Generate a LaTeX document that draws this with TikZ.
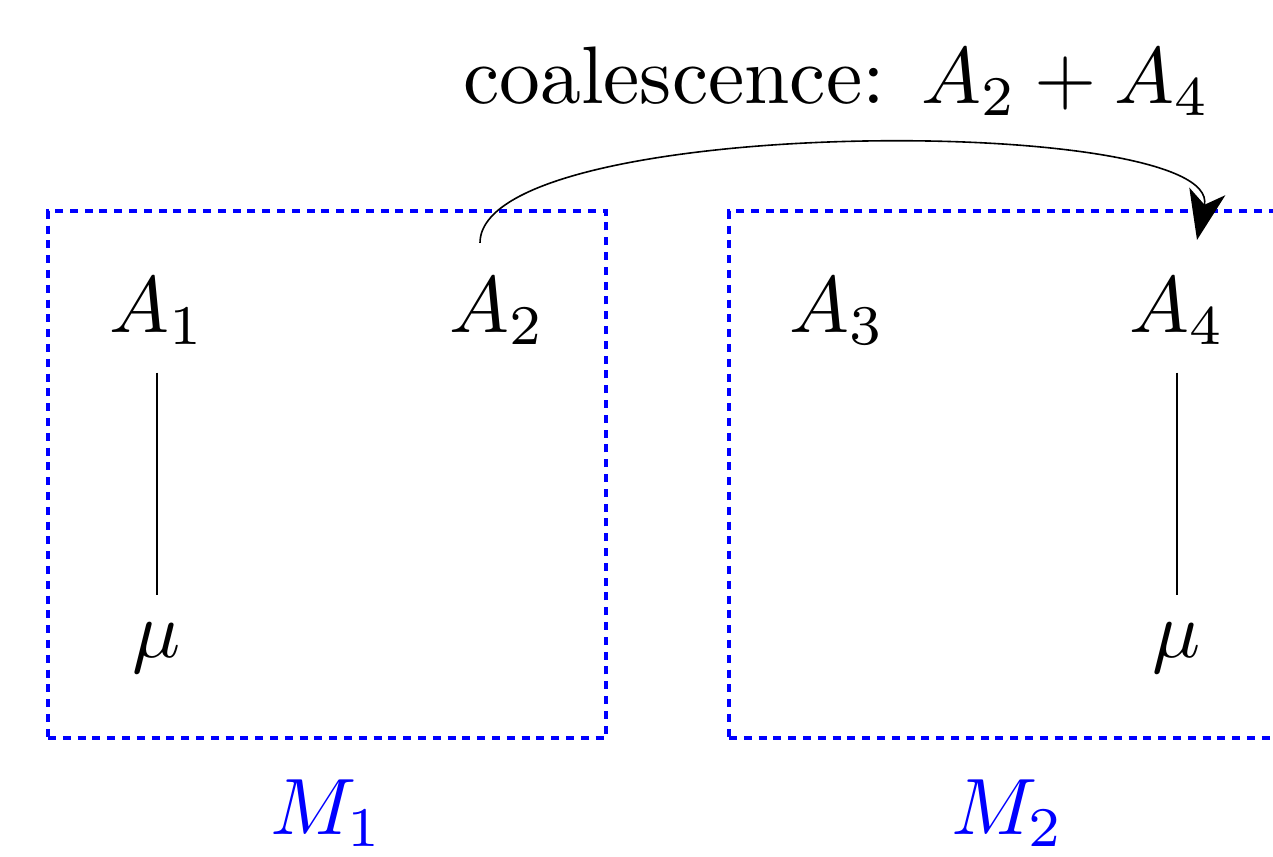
\documentclass[tikz,border=0pt]{standalone}
\usetikzlibrary{positioning,arrows.meta}
\begin{document}
\begin{tikzpicture}[x=12.5pt,y=12.5pt,font=\fontsize{10.2pt}{12pt}\selectfont,
  modbox/.style={draw=blue,line width=0.5pt,dash pattern=on 1pt off 0.85pt,
    minimum width=69.75pt,minimum height=65.875pt},
  modlabel/.style={text=blue},
  link/.style={line width=0.2pt},
  coal/.style={line width=0.2pt,-{Stealth[length=6.2pt,width=4.6pt,inset=1.7pt]}}]
  \clip (0,0) rectangle (12.73,8.57);
  % modules
  \node[modbox] (M1) at (3.27,3.825) {};
  \node[modbox] (M2) at (10.08,3.825) {};
  \node[modlabel,below=1.5pt of M1] (l1) {$M_1$};
  \node[modlabel,below=1.5pt of M2] (l2) {$M_2$};
  % alleles
  \node (A1) at (1.57,5.46) {$A_1$};
  \node (A2) at (4.97,5.46) {$A_2$};
  \node (A3) at (8.37,5.46) {$A_3$};
  \node (A4) at (11.77,5.46) {$A_4$};
  \node (mu1) at (1.57,2.09) {$\mu$};
  \node (mu4) at (11.77,2.09) {$\mu$};
  \draw[link] (A1) -- (mu1);
  \draw[link] (A4) -- (mu4);
  % coalescence
  \coordinate (s) at ([shift={(-0.17,0.68)}]A2.center);
  \coordinate (e) at ([shift={(0.20,0.71)}]A4.center);
  \draw[coal] (s) to[out=90,in=78,looseness=0.46] (e);
  \node (title) at (8.37,7.76) {coalescence: $A_2+A_4$};
\end{tikzpicture}
\end{document}
